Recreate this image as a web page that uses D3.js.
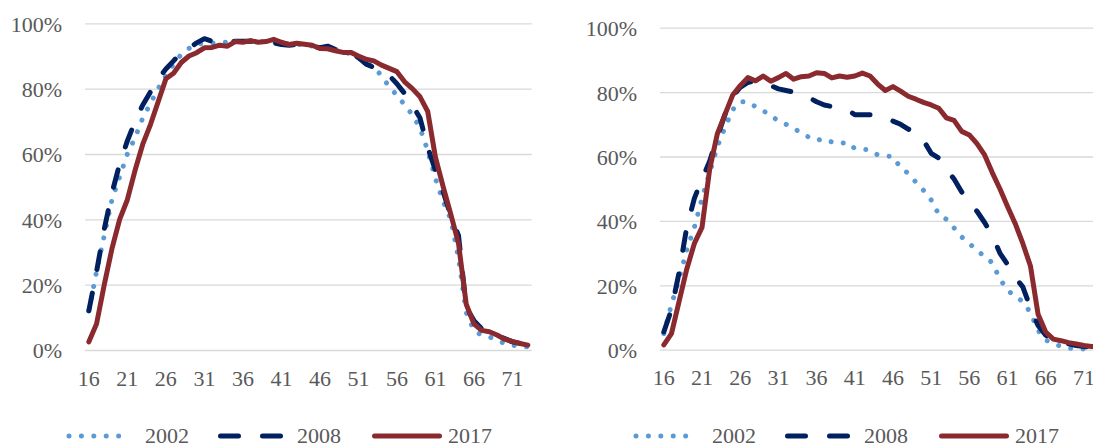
<!DOCTYPE html>
<html>
<head>
<meta charset="utf-8">
<script src="https://cdn.jsdelivr.net/npm/d3@7/dist/d3.min.js"></script>
<style>
  html, body { margin: 0; padding: 0; background: #fff; overflow: hidden; }
</style>
</head>
<body>
<svg id="chart" width="1093" height="446"></svg>
<script>
// ages 16..73
var ages = d3.range(16, 74);
var xTickLabels = [16, 21, 26, 31, 36, 41, 46, 51, 56, 61, 66, 71];
var yTicks = [0, 0.2, 0.4, 0.6, 0.8, 1];
var seriesNames = ["2002", "2008", "2017"];
var FONT = "'Liberation Serif', 'Times New Roman', serif";

// left panel (percent)
var left2002 = [12, 24, 35, 46, 53, 60, 65, 71, 75.5, 80, 84, 87.5, 90.5, 92.3, 93.5, 94, 94, 94, 94.3, 94.5,
  94.5, 94.5, 94.5, 94.3, 94.5, 94, 93.8, 93.5, 93.5, 93, 92.5, 92.3, 92, 91.5, 90.5, 89.5, 88, 86.5, 84, 80.5,
  78, 75, 72, 68, 61, 52.5, 45.5, 40, 28, 11.5, 6, 4.5, 4, 3, 2, 1.5, 1, 1];
var left2008 = [12, 24, 37, 48, 57, 64, 70, 75, 79, 83, 86, 88.5, 91, 92.5, 94, 95.3, 94.5, 94, 94, 94.5,
  94.5, 94.5, 94.5, 94.2, 94, 93.5, 93.3, 93.5, 93.2, 93, 92.5, 93, 92, 91.3, 91, 89.5, 87.5, 86.5, 85.5, 84,
  81.5, 78.5, 75, 71, 62, 55, 48.5, 41, 35, 13, 9, 6.5, 5.5, 4.5, 3.5, 2.5, 2, 1.5];
var left2017 = [2.5, 8, 20, 31, 40, 46, 55, 63, 69, 76, 83, 84.7, 88, 90, 91, 92.5, 92.6, 93.3, 93, 94.4,
  94.2, 94.7, 94.2, 94.4, 95.1, 94.2, 93.5, 93.9, 93.6, 93.3, 92.3, 92.2, 91.6, 91.1, 91.1, 90, 89, 88.5, 87.2, 86.2,
  85.2, 82.1, 80, 77.5, 73, 59, 50, 41.5, 32.6, 14, 8, 6, 5.6, 4.6, 3.3, 2.6, 2, 1.5];

// right panel (percent)
var right2002 = [5, 14, 22, 31, 38, 47, 55, 63, 69, 74.5, 77, 77, 75.5, 74.2, 72.8, 71, 70, 68.8, 67.3, 66,
  65, 65.5, 64.5, 64, 64.4, 62.5, 62.3, 62, 60.5, 60.2, 60, 56.5, 54.8, 52, 49.5, 46.5, 42, 40.5, 37.8, 35,
  33, 30.8, 29, 27, 22, 18.5, 16.5, 15, 11.5, 6, 3, 2, 1, 0.5, 0.3, 0.2, 0.2, 0.1];
var right2008 = [5.5, 12.5, 24, 38, 47, 53, 58.5, 66, 73, 78.5, 81.5, 83, 83.5, 83, 82, 81, 80.5, 80, 79.5, 78.3,
  77, 76, 75.5, 75, 74.5, 73, 73, 73, 72.5, 72.2, 71, 70, 68.5, 67.5, 65, 61, 59.5, 56, 53, 49,
  45.5, 43, 39.5, 35.5, 30, 26.5, 22.5, 19.5, 13, 7.5, 4.5, 3, 2.3, 1.8, 1.3, 1, 0.8, 0.5];
var right2017 = [1.5, 5, 15, 25, 33, 38, 56, 67, 73, 79, 82, 84.5, 83.5, 85, 83.4, 84.5, 85.8, 84, 84.8, 85,
  86, 85.8, 84.4, 85, 84.6, 85, 85.9, 85, 82.5, 80.5, 81.7, 80.3, 78.7, 77.8, 76.8, 76, 75, 72, 71.2, 67.8,
  66.7, 64, 60.5, 55, 50, 44.5, 39.2, 33, 26, 11, 5.5, 3.3, 2.8, 2.2, 1.8, 1.3, 1, 0.8];

var styles = {
  "2002": { color: "#5B9BD5", dash: "0.01 12.4" },
  "2008": { color: "#002060", dash: "18 24" },
  "2017": { color: "#8B2A2E", dash: null }
};

var svg = d3.select("#chart");

function drawPanel(left, right, gridRight, top, bottom, series) {
  var x = d3.scaleBand().domain(ages).range([left, right]).padding(0);
  var y = d3.scaleLinear().domain([0, 1]).range([bottom, top]);
  var g = svg.append("g");

  var yAxis = d3.axisLeft(y)
    .tickValues(yTicks)
    .tickFormat(d3.format(".0%"))
    .tickSize(-(gridRight - left))
    .tickPadding(23);
  var ya = g.append("g").attr("transform", "translate(" + left + ",0)").call(yAxis);
  ya.select(".domain").remove();
  ya.selectAll(".tick line").attr("stroke", "#D9D9D9").attr("stroke-width", 1.3);
  ya.selectAll(".tick text")
    .attr("dy", "0.36em")
    .style("font-family", FONT)
    .style("font-size", "22px")
    .attr("fill", "#595959");

  var xAxis = d3.axisBottom(x).tickValues(xTickLabels).tickSize(0).tickPadding(20);
  var xa = g.append("g").attr("transform", "translate(0," + bottom + ")").call(xAxis);
  xa.select(".domain").remove();
  xa.selectAll(".tick text")
    .style("font-family", FONT)
    .style("font-size", "22px")
    .attr("fill", "#595959");

  var line = d3.line()
    .x(function (d, i) { return x(ages[i]) + x.bandwidth() / 2; })
    .y(function (d) { return y(d / 100); });

  series.forEach(function (s) {
    var st = styles[s.name];
    g.append("path")
      .datum(s.values)
      .attr("fill", "none")
      .attr("stroke", st.color)
      .attr("stroke-width", 5)
      .attr("stroke-linecap", "round")
      .attr("stroke-linejoin", "round")
      .attr("stroke-dasharray", st.dash)
      .attr("d", line);
  });
}

function drawLegend(x0) {
  var items = [
    { name: "2002", x1: 69, x2: 131, tx: 145 },
    { name: "2008", x1: 220.5, x2: 280.5, tx: 297 },
    { name: "2017", x1: 374.5, x2: 439.5, tx: 448 }
  ];
  var lg = svg.append("g").attr("transform", "translate(" + x0 + ",0)");
  items.forEach(function (it) {
    var st = styles[it.name];
    lg.append("line")
      .attr("x1", it.x1).attr("x2", it.x2)
      .attr("y1", 436).attr("y2", 436)
      .attr("stroke", st.color)
      .attr("stroke-width", 5)
      .attr("stroke-linecap", "round")
      .attr("stroke-dasharray", st.dash);
    lg.append("text")
      .attr("x", it.tx).attr("y", 443)
      .attr("fill", "#595959")
      .style("font-family", FONT)
      .style("font-size", "22px")
      .text(it.name);
  });
}

drawPanel(85, 531.7, 531.7, 23.3, 350, [
  { name: "2002", values: left2002 },
  { name: "2008", values: left2008 },
  { name: "2017", values: left2017 }
]);
drawPanel(660, 1103, 1093, 27.7, 349.7, [
  { name: "2002", values: right2002 },
  { name: "2008", values: right2008 },
  { name: "2017", values: right2017 }
]);

drawLegend(0);
drawLegend(567);
</script>
</body>
</html>
